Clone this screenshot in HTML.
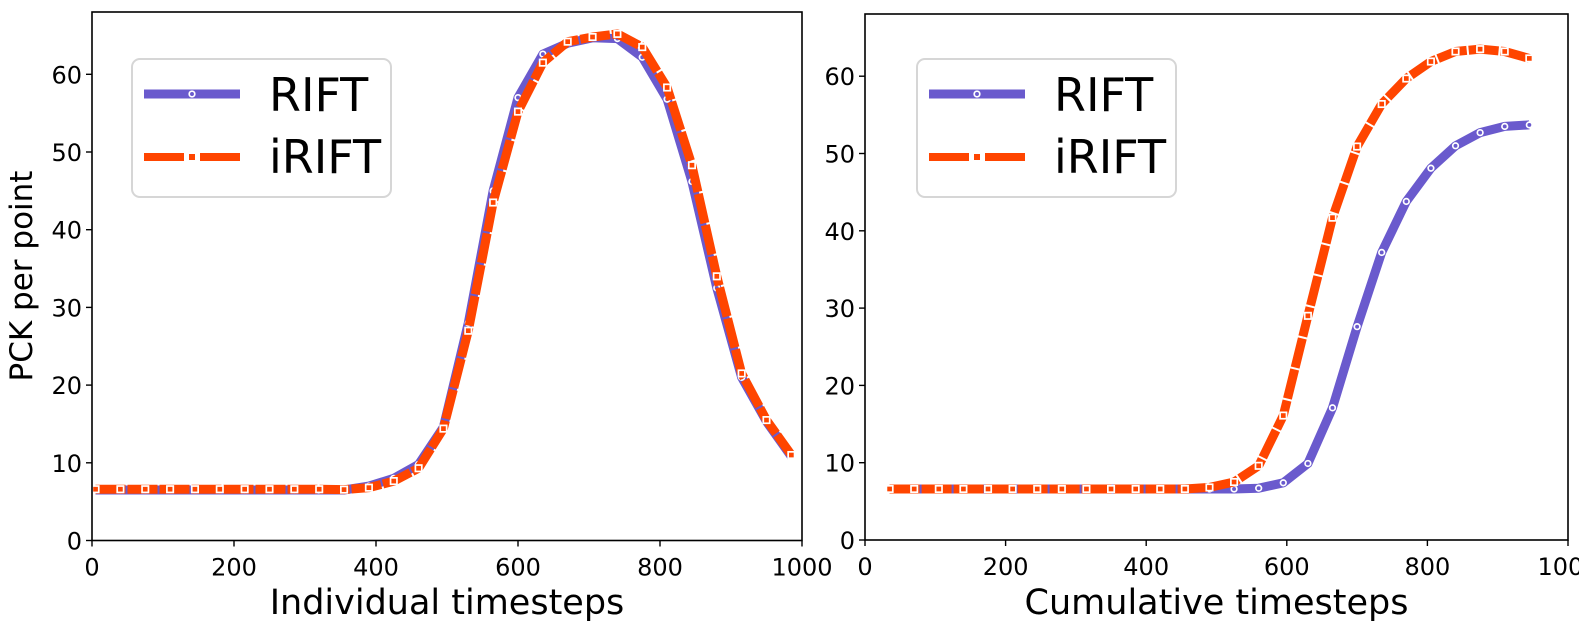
<!DOCTYPE html>
<html><head><meta charset="utf-8"><style>
html,body{margin:0;padding:0;background:#fff;}
svg{display:block;font-family:"DejaVu Sans","Liberation Sans",sans-serif;}
</style></head><body>
<svg id="fig" width="1579" height="626" viewBox="0 0 1579 626" xmlns="http://www.w3.org/2000/svg">
<text x="0" y="0" transform="translate(32,276) rotate(-90)" text-anchor="middle" font-size="31">PCK per point</text>
</svg>
<script>
// ---- data ----
const leftX = [5,40,75,110,145,180,215,250,285,320,355,390,425,460,495,530,565,600,635,670,705,740,775,810,845,880,915,950,985];
const leftRIFT = [6.5,6.5,6.5,6.5,6.5,6.5,6.5,6.5,6.5,6.5,6.5,7.0,8.0,9.8,14.6,28,45,57,62.6,64,64.7,64.6,62.2,56.8,46.2,32.5,21,15.3,10.8];
const leftIRIFT = [6.6,6.6,6.6,6.6,6.6,6.6,6.6,6.6,6.6,6.6,6.55,6.8,7.65,9.3,14.4,27,43.5,55.2,61.5,64.2,64.8,65.2,63.5,58.3,48.3,34,21.5,15.5,11];
const rightX = [35,70,105,140,175,210,245,280,315,350,385,420,455,490,525,560,595,630,665,700,735,770,805,840,875,910,945];
const rightRIFT = [6.6,6.6,6.6,6.6,6.6,6.6,6.6,6.6,6.6,6.6,6.6,6.6,6.6,6.6,6.6,6.7,7.4,9.9,17.1,27.6,37.2,43.8,48.1,51.0,52.7,53.5,53.7];
const rightIRIFT = [6.6,6.6,6.6,6.6,6.6,6.6,6.6,6.6,6.6,6.6,6.6,6.6,6.6,6.8,7.5,9.6,16.1,29.0,41.7,50.9,56.4,59.7,61.9,63.2,63.5,63.2,62.3];
const xTicks = [0,200,400,600,800,1000];
const yTicks = [0,10,20,30,40,50,60];
const seriesNames = ["RIFT","iRIFT"];

const NS = "http://www.w3.org/2000/svg";
const svg = document.getElementById('fig');
const BLUE = "#6a5acd", ORANGE = "#ff4500";
function mk(tag, attrs, parent){
  const e = document.createElementNS(NS, tag);
  for (const k in attrs) e.setAttribute(k, attrs[k]);
  (parent||svg).appendChild(e);
  return e;
}

function panel(p){
  const g = mk('g', {});
  
  
  const sx = v => p.x0 + (v/1000)*(p.x1 - p.x0);
  const sy = v => p.y0 - v*p.ppu;
  function line(xs, ys, color, dashed, nm){
    const pts = xs.map((x,i)=>sx(x).toFixed(1)+','+sy(ys[i]).toFixed(1)).join(' ');
    const pl = mk('polyline', {points: pts, fill:'none', stroke: color, 'stroke-width': 9, 'stroke-linejoin':'round'}, g);
    if (dashed) pl.setAttribute('stroke-dasharray', '30 2');
    
    
    xs.forEach((x,i)=>{
      let m;
      if (!dashed) m = mk('circle', {cx: sx(x), cy: sy(ys[i]), r: 2.8, fill: color, stroke:'#fff', 'stroke-width':1.7}, g);
      else m = mk('rect', {x: sx(x)-3.2, y: sy(ys[i])-3.2, width:6.4, height:6.4, fill: color, stroke:'#fff', 'stroke-width':1.7}, g);
      
      
    });
  }
  line(p.xs, p.a, BLUE, false, 'rift');
  line(p.xs, p.b, ORANGE, true, 'irift');
  const fr = mk('rect', {x:p.x0, y:p.top, width:p.x1-p.x0, height:p.y0-p.top, fill:'none', stroke:'#000', 'stroke-width':1.6}, g);
  
  
  xTicks.forEach(t=>{
    mk('line', {x1:sx(t), x2:sx(t), y1:p.y0, y2:p.y0+6, stroke:'#000','stroke-width':1.4}, g);
    const tx = mk('text', {x:sx(t), y:p.y0+35, 'text-anchor':'middle', 'font-size':24}, g);
    tx.textContent = t;
    
    
  });
  yTicks.forEach(t=>{
    mk('line', {x1:p.x0-6, x2:p.x0, y1:sy(t), y2:sy(t), stroke:'#000','stroke-width':1.4}, g);
    const tx = mk('text', {x:p.x0-10, y:sy(t)+9, 'text-anchor':'end', 'font-size':24}, g);
    tx.textContent = t;
    
    
  });
  const xl = mk('text', {x:(p.x0+p.x1)/2, y:614, 'text-anchor':'middle', 'font-size':35}, g);
  xl.textContent = p.xlabel;
  
  
  const lg = mk('g', {}, g);
  
  
  mk('rect', {x:p.lx, y:59, width:259, height:138, rx:8, fill:'#fff', 'fill-opacity':0.85, stroke:'#d6d6d6', 'stroke-width':2}, lg);
  const e1 = mk('g', {}, lg);
  
  
  mk('line', {x1:p.lx+12, x2:p.lx+108, y1:94, y2:94, stroke:BLUE, 'stroke-width':9}, e1);
  mk('circle', {cx:p.lx+60, cy:94, r:2.8, fill:BLUE, stroke:'#fff','stroke-width':1.7}, e1);
  const t1 = mk('text', {x:p.lx+137, y:111, 'font-size':46}, e1); t1.textContent = seriesNames[0];
  const e2 = mk('g', {}, lg);
  
  
  mk('line', {x1:p.lx+12, x2:p.lx+52, y1:157, y2:157, stroke:ORANGE, 'stroke-width':8}, e2);
  mk('line', {x1:p.lx+68, x2:p.lx+108, y1:157, y2:157, stroke:ORANGE, 'stroke-width':8}, e2);
  mk('rect', {x:p.lx+57, y:154, width:6, height:6, fill:ORANGE}, e2);
  const t2 = mk('text', {x:p.lx+137, y:173, 'font-size':46}, e2); t2.textContent = seriesNames[1];
}

panel({name:'left-panel', x0:92, x1:802, y0:540.5, top:12, ppu:7.77, xs:leftX, a:leftRIFT, b:leftIRIFT, xlabel:'Individual timesteps', lx:132});
panel({name:'right-panel', x0:865, x1:1568, y0:540, top:14, ppu:7.73, xs:rightX, a:rightRIFT, b:rightIRIFT, xlabel:'Cumulative timesteps', lx:917});
</script>
</body></html>
